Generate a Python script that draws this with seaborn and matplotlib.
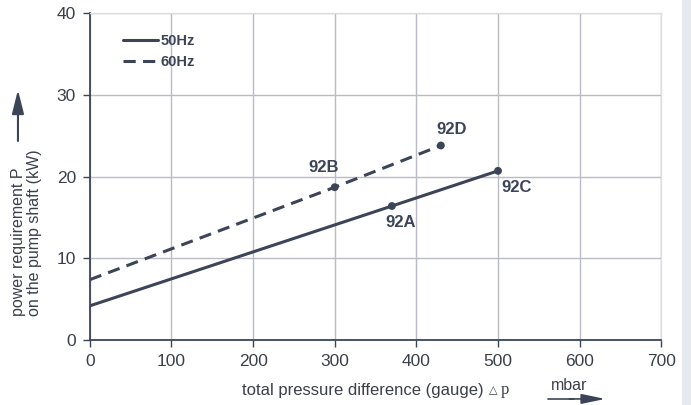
import numpy as np
import pandas as pd
import seaborn as sns
import matplotlib.pyplot as plt
from matplotlib.patches import Rectangle
from matplotlib.lines import Line2D

# data
p_50 = [0, 370, 500]
kw_50 = [4.2, 16.4, 20.7]
p_60 = [0, 300, 430]
kw_60 = [7.4, 18.7, 23.8]
pts_50 = ['', '92A', '92C']
pts_60 = ['', '92B', '92D']
x_ticks = [0, 100, 200, 300, 400, 500, 600, 700]
y_ticks = [0, 10, 20, 30, 40]

dark = '#3c4558'
grid = '#b9bcc6'
txt = '#3a3f4a'
dash = [4, 2.4]

sns.set_theme(style='white')
plt.rcParams['font.family'] = ['Liberation Sans', 'DejaVu Sans']

fig = plt.figure(figsize=(6.91, 4.05), dpi=100)
ax = fig.add_axes([0.130, 0.160, 0.827, 0.808])
fig.patches.append(Rectangle((682 / 691, 0), 1, 1, transform=fig.transFigure,
                             color='#e6e9ee', zorder=0))

df50 = pd.DataFrame({'p': p_50, 'kw': kw_50})
df60 = pd.DataFrame({'p': p_60, 'kw': kw_60})
sns.lineplot(data=df50, x='p', y='kw', ax=ax, color=dark, lw=2.2)
sns.lineplot(data=df60, x='p', y='kw', ax=ax, color=dark, lw=2.2)
ax.lines[1].set_dashes(dash)
sns.scatterplot(x=p_50[1:] + p_60[1:], y=kw_50[1:] + kw_60[1:], ax=ax,
                color=dark, s=32, edgecolor='none', zorder=5)

# point labels (offsets in points)
offs = {'92A': (6.5, -12), '92C': (13, -12), '92B': (-8, 14), '92D': (7.5, 11.5)}
for xs, ys, ls in [(p_50, kw_50, pts_50), (p_60, kw_60, pts_60)]:
    for x, y, l in zip(xs, ys, ls):
        if l:
            ox, oy = offs[l]
            ax.annotate(l, (x, y), xytext=(ox, oy), textcoords='offset points',
                        ha='center', va='center', fontsize=12, fontweight='bold', color=dark)

ax.set_xlim(0, 700)
ax.set_ylim(0, 40)
ax.set_xticks(x_ticks)
ax.set_yticks(y_ticks)
ax.grid(True, color=grid, lw=1)
ax.tick_params(axis='both', length=5, width=1, color=dark, labelsize=12.5,
               labelcolor=txt, pad=5, bottom=True, left=True)
for s in ['left', 'bottom']:
    ax.spines[s].set_color(dark)
    ax.spines[s].set_linewidth(1.3)
for s in ['top', 'right']:
    ax.spines[s].set_color('#dcdee3')
    ax.spines[s].set_linewidth(1)

ax.set_xlabel('')
ax.set_ylabel('')
xl = fig.text(0.350, 0.037, 'total pressure difference (gauge)', fontsize=12, color=txt,
              ha='left', va='center')
tri = ax.annotate('\u25b3', xy=(1, 0.5), xycoords=xl, xytext=(4, 0), textcoords='offset points',
                  fontsize=8, color=txt, ha='left', va='center', family=['DejaVu Sans'])
ax.annotate('p', xy=(1, 0.5), xycoords=tri, xytext=(2, 0), textcoords='offset points',
            fontsize=12, color=txt, ha='left', va='center', family=['Liberation Serif'])
fig.text(0.797, 0.047, 'mbar', fontsize=11.5, color=txt, ha='left', va='center')
fig.add_artist(Line2D([0.793, 0.83], [0.015, 0.015], transform=fig.transFigure,
                      color=dark, lw=1.2))
ax.annotate('', xy=(0.88, 0.015), xytext=(0.82, 0.015), xycoords='figure fraction',
            arrowprops=dict(arrowstyle='-|>,head_length=1.2,head_width=0.25',
                            color=dark, lw=1.2))

fig.text(0.016, 0.425, 'power requirement P\non the pump shaft (kW)', rotation=90,
         fontsize=11.5, color=txt, ha='left', va='center', linespacing=1.1)
ax.annotate('', xy=(0.026, 0.785), xytext=(0.026, 0.645), xycoords='figure fraction',
            arrowprops=dict(arrowstyle='-|>,head_length=1.2,head_width=0.3',
                            color=dark, lw=1.5))

handles = [Line2D([], [], color=dark, lw=2.2),
           Line2D([], [], color=dark, lw=2.2, dashes=dash)]
leg = ax.legend(handles, ['50Hz', '60Hz'], loc='upper left', bbox_to_anchor=(0.035, 0.975),
                frameon=False, handlelength=2.4, handletextpad=0.2, labelspacing=0.45,
                prop={'size': 10.5, 'weight': 'bold'})
for t in leg.get_texts():
    t.set_color(dark)

fig.savefig('out.png', dpi=100)
